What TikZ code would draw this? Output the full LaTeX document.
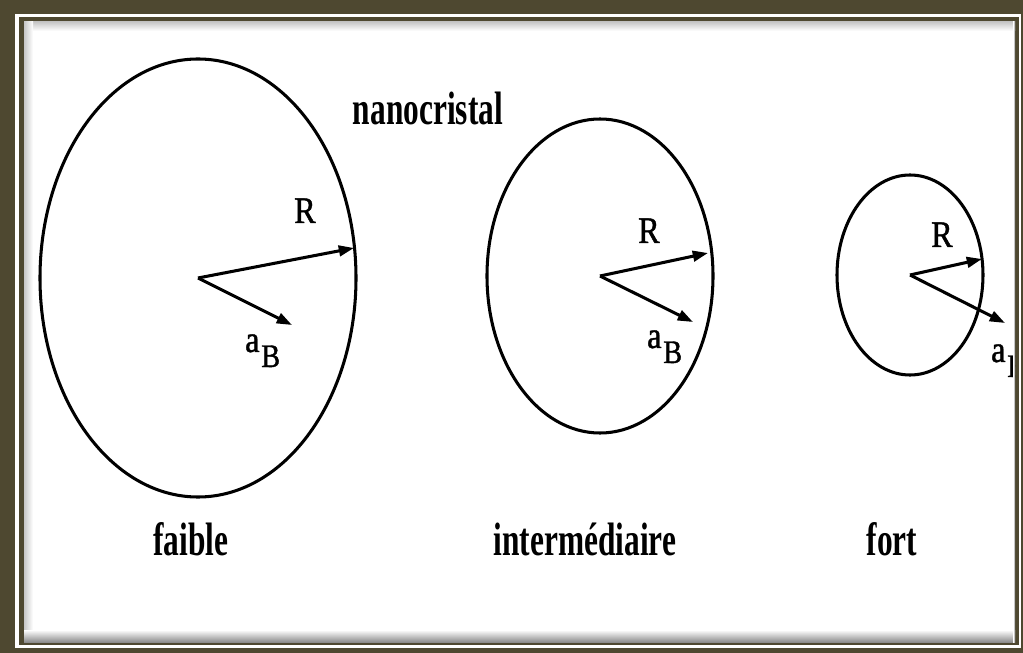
\documentclass[tikz,border=0pt]{standalone}
\usepackage{fontspec}
\setmainfont{Liberation Serif}
\newfontfamily\capfont[FakeStretch=0.67]{Liberation Serif}
\newfontfamily\symfont[FakeStretch=0.86,FakeBold=1.2]{Liberation Serif}
\usetikzlibrary{arrows.meta,shapes.geometric}
\definecolor{framebd}{HTML}{4E4830}
\tikzset{
  ring/.style={draw,ellipse,line width=2.6pt,inner sep=0pt},
  vec/.style={-{Triangle[length=13pt,width=9pt]},line width=2.6pt},
  caption/.style={font=\capfont\bfseries\fontsize{40}{44}\selectfont,
                  anchor=base,inner sep=0pt},
  sym/.style={font=\symfont\fontsize{32}{36}\selectfont,inner sep=0pt},
}
\newcommand{\aB}{a\kern1.5pt\raisebox{-0.45cm}{\fontsize{28}{30}\selectfont B}}

\begin{document}
\begin{tikzpicture}[x=0.03cm,y=-0.03cm]
  \useasboundingbox (0,0) rectangle (1023,653);
  % ---- Frame ----
  \fill[framebd] (0,0) rectangle (1023,653);
  \fill[white] (15,14) rectangle (1021,648);
  \fill[framebd] (19,17) rectangle (1019,645);
  \fill[white] (24,22) rectangle (1015,642);
  \shade[top color=black!22,bottom color=white] (24,22) rectangle (1015,31);
  \shade[left color=black!22,right color=white] (24,22) rectangle (33,642);
  \shade[top color=white,bottom color=black!45] (24,630) rectangle (1015,642);

  % ---- Circles ----
  \node[ring,minimum width=9.48cm,minimum height=13.14cm] (big) at (198,278) {};
  \node[ring,minimum width=6.78cm,minimum height=9.42cm] (mid) at (600,276) {};
  \node[ring,minimum width=4.38cm,minimum height=6.0cm] (small) at (910,275) {};

  % ---- Radius and Bohr radius ----
  \coordinate (rbig) at (354,248);
  \coordinate (abig) at (292,325);
  \coordinate (rmid) at (708,253);
  \coordinate (amid) at (693,322);
  \coordinate (rsmall) at (982,259);
  \coordinate (asmall) at (1005,323);
  \draw[vec] (big.center) -- (rbig);
  \draw[vec] (big.center) -- (abig);
  \draw[vec] (mid.center) -- (rmid);
  \draw[vec] (mid.center) -- (amid);
  \draw[vec] (small.center) -- (rsmall);
  \draw[vec] (small.center) -- (asmall);

  \node[sym,anchor=base] (Rbig) at (305,223) {R};
  \node[sym,anchor=base] (Rmid) at (649,243) {R};
  \node[sym,anchor=base] (Rsmall) at (942,247) {R};
  \node[sym,anchor=base west] (aBbig) at (245,352) {\aB};
  \node[sym,anchor=base west] (aBmid) at (647,348) {\aB};
  \begin{scope}
    \clip (980,330) rectangle (1015,400);
    \node[sym,anchor=base west] (aBsmall) at (991,362) {\aB};
  \end{scope}
  \shade[left color=white,right color=black!45] (1013,22) rectangle (1015,642);

  % ---- Captions ----
  \node[caption] (nano) at (428,125) {nanocristal};
  \node[caption] (faible) at (191,555) {faible};
  \node[caption] (inter) at (585,555) {intermédiaire};
  \node[caption] (fort) at (892,555) {fort};
\end{tikzpicture}
\end{document}
